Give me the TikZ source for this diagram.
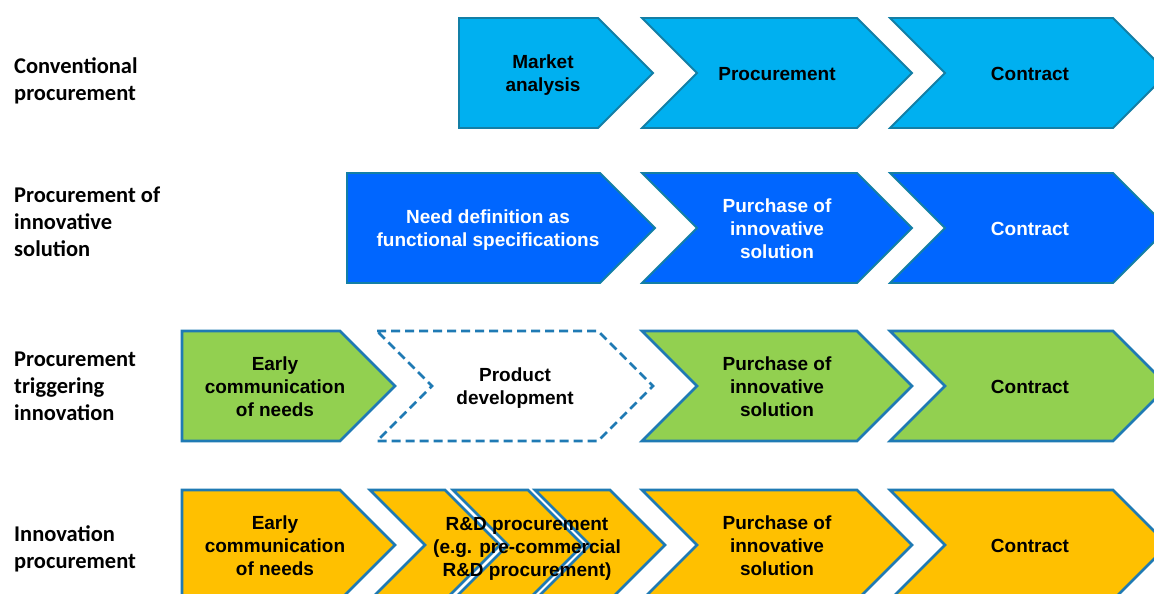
\documentclass[tikz,border=0pt]{standalone}
\usepackage{fontspec}
\setmainfont{Liberation Sans}
\newfontfamily\labfont{Carlito}
\definecolor{cA}{HTML}{00B0F0}
\definecolor{cB}{HTML}{0066FF}
\definecolor{cC}{HTML}{92D050}
\definecolor{cD}{HTML}{FFC000}
\definecolor{oA}{HTML}{137FA6}
\definecolor{oB}{HTML}{1F7AB4}
% pentagon: style, x-left, x-topright, top, mid, bottom
\newcommand\pentshape[6]{\path[#1] (#2,#4) -- (#3,#4) -- (#3+55,#5) -- (#3,#6) -- (#2,#6) -- cycle;}
% chevron: style, x-left, x-topright, top, mid, bottom
\newcommand\chevshape[6]{\path[#1] (#2,#4) -- (#3,#4) -- (#3+55,#5) -- (#3,#6) -- (#2,#6) -- (#2+55,#5) -- cycle;}
\begin{document}
\begin{tikzpicture}[x=1pt,y=-1pt,
  rA/.style={fill=cA,draw=oA,line width=1.8pt,line join=miter},
  rB/.style={fill=cB,draw=oA,line width=1.8pt,line join=miter},
  rC/.style={fill=cC,draw=oB,line width=2.6pt,line join=miter},
  rD/.style={fill=cD,draw=oB,line width=2.6pt,line join=miter},
  dsh/.style={fill=white,draw=oB,line width=2.6pt,dash pattern=on 9pt off 5pt},
  txt/.style={font=\bfseries\fontsize{19}{23}\selectfont,align=center,inner sep=0pt},
  wtxt/.style={txt,text=white},
  lab/.style={font=\labfont\bfseries\fontsize{22.5}{27}\selectfont,align=left,anchor=west,inner sep=0pt}]
\useasboundingbox (0,0) rectangle (1154,594);
\clip (0,0) rectangle (1154,594);
\fill[white] (0,0) rectangle (1154,594);

% left labels
\node[lab] (l1) at (14,80.5) {Conventional\\procurement};
\node[lab] (l2) at (14,222) {Procurement of\\innovative\\solution};
\node[lab] (l3) at (14,386) {Procurement\\triggering\\innovation};
\node[lab] (l4) at (14,548.5) {Innovation\\procurement};

% row 1
\pentshape{rA}{459}{598}{18}{73}{128}
\chevshape{rA}{642}{857}{18}{73}{128}
\chevshape{rA}{890}{1113}{18}{73}{128}
\node[txt] (a1) at (543,75) {Market\\analysis};
\node[txt] (a2) at (777,74) {Procurement};
\node[txt] (a3) at (1030,74) {Contract};

% row 2
\pentshape{rB}{347}{600}{173}{228}{283}
\chevshape{rB}{642}{857}{173}{228}{283}
\chevshape{rB}{890}{1113}{173}{228}{283}
\node[wtxt] (b1) at (488,230) {Need definition as\\functional specifications};
\node[wtxt] (b2) at (777,229) {Purchase of\\innovative\\solution};
\node[wtxt] (b3) at (1030,229) {Contract};

% row 3
\pentshape{rC}{182}{340}{331}{386}{441}
\chevshape{dsh}{377}{598}{331}{386}{441}
\chevshape{rC}{642}{857}{331}{386}{441}
\chevshape{rC}{890}{1113}{331}{386}{441}
\node[txt] (c1) at (275,387) {Early\\communication\\of needs};
\node[txt] (c2) at (515,388) {Product\\development};
\node[txt] (c3) at (777,387) {Purchase of\\innovative\\solution};
\node[txt] (c4) at (1030,387) {Contract};

% row 4
\pentshape{rD}{182}{340}{490}{545}{600}
\chevshape{rD}{370}{445}{490}{545}{600}
\chevshape{rD}{453}{528}{490}{545}{600}
\chevshape{rD}{535}{610}{490}{545}{600}
\chevshape{rD}{642}{857}{490}{545}{600}
\chevshape{rD}{890}{1113}{490}{545}{600}
\node[txt] (d1) at (275,546) {Early\\communication\\of needs};
\node[txt] (d2) at (527,549) {R\&D procurement\\(e.g. pre-commercial\\R\&D procurement)};
\node[txt] (d3) at (777,546) {Purchase of\\innovative\\solution};
\node[txt] (d4) at (1030,546) {Contract};
\end{tikzpicture}
\end{document}
